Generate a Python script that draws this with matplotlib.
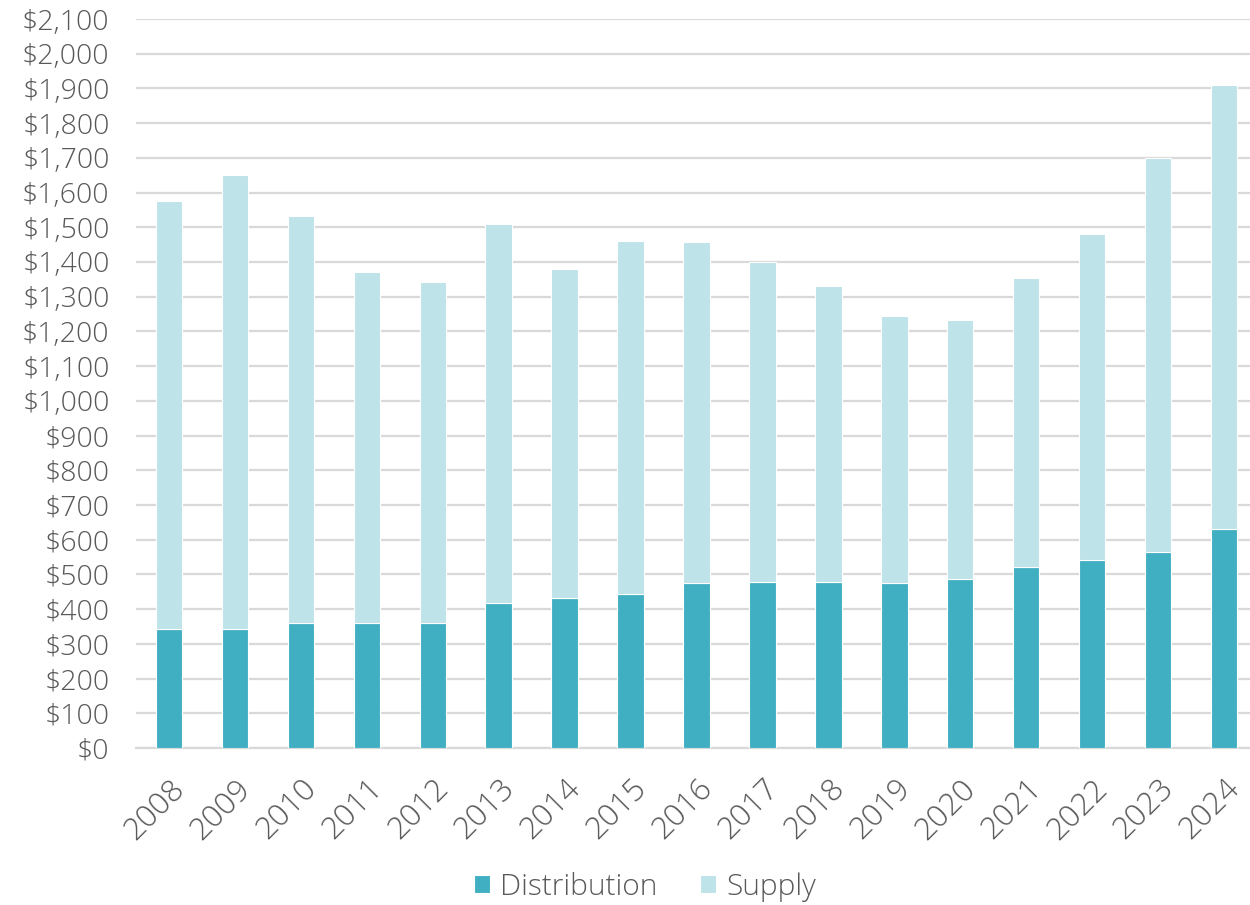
import numpy as np
import matplotlib.pyplot as plt
from matplotlib.ticker import FuncFormatter, MultipleLocator

# years on the x axis
years = ['2008', '2009', '2010', '2011', '2012', '2013', '2014', '2015', '2016',
         '2017', '2018', '2019', '2020', '2021', '2022', '2023', '2024']
# distribution part of each bar
distribution = [343, 343, 360, 360, 360, 418, 432, 444, 475, 478, 478, 475, 487,
                521, 542, 565, 631]
# total height of each bar (distribution + supply)
total = [1576, 1651, 1533, 1371, 1343, 1510, 1380, 1461, 1458, 1400, 1331, 1245,
         1233, 1354, 1481, 1700, 1910]
supply = [t - d for t, d in zip(total, distribution)]

plt.rcParams['font.family'] = ['Open Sans', 'DejaVu Sans']
text_col = '#595959'

fig = plt.figure(figsize=(12.5, 9.05), dpi=100, facecolor='w')
ax = fig.add_axes([0.1088, 0.1735, 0.8968, 0.8055])

x = np.arange(len(years))
ax.bar(x, distribution, width=0.4, color='#41AFC2', edgecolor='w', lw=0.8,
       label='Distribution', zorder=3)
ax.bar(x, supply, width=0.4, bottom=distribution, color='#BEE3E9', edgecolor='w',
       lw=0.8, label='Supply', zorder=3)

ax.set_xlim(-0.5, len(years) - 0.5)
ax.set_ylim(0, 2100)
ax.yaxis.set_major_locator(MultipleLocator(100))
ax.yaxis.set_major_formatter(FuncFormatter(lambda v, p: '${:,.0f}'.format(v)))
ax.set_xticks(x)
ax.set_xticklabels(years, rotation=45, ha='right', rotation_mode='anchor')
ax.tick_params(axis='both', length=0, colors=text_col)
ax.tick_params(axis='x', pad=18, labelsize=22.5)
ax.tick_params(axis='y', pad=19, labelsize=20.5)
for lab in ax.get_xticklabels() + ax.get_yticklabels():
    lab.set_fontweight('light')
ax.grid(axis='y', color='#D9D9D9', lw=1.6, zorder=0)
for spine in ('top', 'right', 'left'):
    ax.spines[spine].set_visible(False)
ax.spines['bottom'].set_color('#D9D9D9')
ax.spines['bottom'].set_linewidth(1.6)

leg = fig.legend(*ax.get_legend_handles_labels(), loc='center',
                 bbox_to_anchor=(0.516, 0.02), ncol=2, frameon=False,
                 prop={'size': 21.5, 'weight': 'light'}, handlelength=0.55,
                 handleheight=0.55, handletextpad=0.35, columnspacing=1.4)
for t in leg.get_texts():
    t.set_color(text_col)

fig.savefig('out.png', dpi=100)
